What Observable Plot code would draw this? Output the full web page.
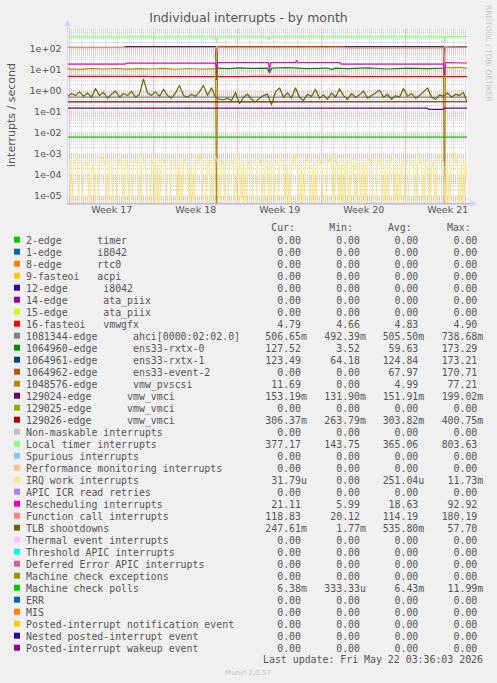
<!DOCTYPE html>
<html><head><meta charset="utf-8">
<script src="https://cdn.jsdelivr.net/npm/d3@7"></script>
<script src="https://cdn.jsdelivr.net/npm/@observablehq/plot@0.6"></script>
<style>
html,body{margin:0;padding:0;background:#f0f0f0;}
#wrap{position:relative;width:497px;height:683px;overflow:hidden;}
</style></head><body><div id="wrap"></div>
<script>
// ---------- text ----------
const chartTitle = "Individual interrupts - by month";
const yAxisLabel = "interrupts / second";
const watermark = "RRDTOOL / TOBI OETIKER";
const lastUpdate = "Last update: Fri May 22 03:36:03 2026";
const footer = "Munin 2.0.57";
const colHeaders = ["Cur:", "Min:", "Avg:", "Max:"];

// ---------- axes ----------
const yTickValues = [1e2, 1e1, 1e0, 1e-1, 1e-2, 1e-3, 1e-4, 1e-5];
const yTickLabels = ["1e+02", "1e+01", "1e+00", "1e-01", "1e-02", "1e-03", "1e-04", "1e-05"];
const weekStarts = ["2026-04-19", "2026-04-26", "2026-05-03", "2026-05-10", "2026-05-17"];
const weekLabels = ["Week 17", "Week 18", "Week 19", "Week 20", "Week 21"];
const endTime = Date.UTC(2026, 4, 22, 3, 36);
const stepHours = 8;      // one sample index = 8 hours
const nSteps = 100;       // 100 steps = 33.3 days (month view)
const yMin = 4.36e-6, yMax = 871;

// ---------- legend ----------
const names = [
"2-edge      timer","1-edge      i8042","8-edge      rtc0","9-fasteoi   acpi","12-edge      i8042",
"14-edge      ata_piix","15-edge      ata_piix","16-fasteoi   vmwgfx","1081344-edge      ahci[0000:02:02.0]",
"1064960-edge      ens33-rxtx-0","1064961-edge      ens33-rxtx-1","1064962-edge      ens33-event-2",
"1048576-edge      vmw_pvscsi","129024-edge      vmw_vmci","129025-edge      vmw_vmci","129026-edge      vmw_vmci",
"Non-maskable interrupts","Local timer interrupts","Spurious interrupts","Performance monitoring interrupts",
"IRQ work interrupts","APIC ICR read retries","Rescheduling interrupts","Function call interrupts","TLB shootdowns",
"Thermal event interrupts","Threshold APIC interrupts","Deferred Error APIC interrupts","Machine check exceptions",
"Machine check polls","ERR","MIS","Posted-interrupt notification event","Nested posted-interrupt event",
"Posted-interrupt wakeup event"];
const colors = [
"#00CC00","#0066B3","#FF8000","#FFCC00","#330099","#990099","#CCFF00","#FF0000","#808080","#008F00",
"#00487D","#B35A00","#B38F00","#6B006B","#8FB300","#B30000","#BEBEBE","#80FF80","#80C9FF","#FFC080",
"#FFE680","#AA80FF","#EE00CC","#FF8080","#666600","#FFBFFF","#00FFCC","#CC6699","#999900","#00CC00",
"#0066B3","#FF8000","#FFCC00","#330099","#990099"];
const curVals = ["0.00","0.00","0.00","0.00","0.00","0.00","0.00","4.79","506.65m","127.52","123.49","0.00","11.69","153.19m","0.00","306.37m","0.00","377.17","0.00","0.00","31.79u","0.00","21.11","118.83","247.61m","0.00","0.00","0.00","0.00","6.38m","0.00","0.00","0.00","0.00","0.00"];
const minVals = ["0.00","0.00","0.00","0.00","0.00","0.00","0.00","4.66","492.39m","3.52","64.18","0.00","0.00","131.90m","0.00","263.79m","0.00","143.75","0.00","0.00","0.00","0.00","5.99","20.12","1.77m","0.00","0.00","0.00","0.00","333.33u","0.00","0.00","0.00","0.00","0.00"];
const avgVals = ["0.00","0.00","0.00","0.00","0.00","0.00","0.00","4.83","505.50m","59.63","124.84","67.97","4.99","151.91m","0.00","303.82m","0.00","365.06","0.00","0.00","251.04u","0.00","18.63","114.19","535.80m","0.00","0.00","0.00","0.00","6.43m","0.00","0.00","0.00","0.00","0.00"];
const maxVals = ["0.00","0.00","0.00","0.00","0.00","0.00","0.00","4.90","738.68m","173.29","173.21","170.71","77.21","199.02m","0.00","400.75m","0.00","803.63","0.00","0.00","11.73m","0.00","92.92","180.19","57.70","0.00","0.00","0.00","0.00","11.99m","0.00","0.00","0.00","0.00","0.00"];

// ---------- series: [sample index, value] ----------
const zeroLine = [[0, 0], [100, 0]];
const vmwgfx = [[0,4.85],[20,4.85],[20.5,4.72],[45,4.72],[45.5,4.9],[70,4.9],[70.5,4.75],[100,4.79]];
const ahci = [[0,0.505],[100,0.507]];
const rxtx0 = [[0,118],[37,118],[37.25,3.52],[37.5,12],[40,11.5],[43,12.5],[46,11.8],[50,12],[50.5,7],[51,12],[55,12.8],[60,11.5],[65,12.2],[66,10.5],[67,12],[70,11.5],[75,12.5],[80,11],[85,12],[90,11.5],[94,12],[94.25,118],[100,127.5]];
const rxtx1 = [[0,115],[14,115],[14.5,126],[37,126],[37.25,64],[37.5,115],[69,115],[69.5,127],[94,127],[94.25,64],[94.5,118],[100,123.5]];
const event2 = [[0,0],[37.25,0],[37.5,126],[69,126],[69.5,112],[94,112],[94.25,0],[100,0]];
const pvscsi = [[0,11.2],[3,10.6],[6,11.8],[9,11],[12,11.6],[15,10.8],[18,11.5],[21,11],[24,11.8],[27,10.7],[30,11.6],[33,11],[37,11.2],[37.25,0],[94.25,0],[94.5,13],[96,12.4],[98,13.2],[100,11.69]];
const vmci129024 = [[0,0.152],[90,0.152],[90.25,0.134],[94,0.134],[94.25,0.153],[100,0.153]];
const vmci129026 = [[0,0.304],[100,0.306]];
const localTimer = [[0,372],[25,372],[25.75,398],[26.5,372],[37,372],[37.25,200],[37.5,372],[50.25,372],[50.5,268],[50.75,372],[94,372],[94.25,220],[94.5,390],[100,377]];
const resched = [[0,18.6],[14.5,18.6],[14.75,20.7],[37,20.7],[37.25,10],[37.5,22.3],[50.25,22.3],[50.5,9],[50.75,22.3],[57,22.3],[57.25,27.8],[57.5,22.3],[68,22.3],[68.5,18.6],[94,18.6],[94.25,6],[94.5,22.3],[100,21.1]];
const funcCall = [[0,115],[37,115],[37.25,60],[37.5,115],[94,115],[94.25,20.1],[94.5,118],[100,118.8]];
const mcePolls = [[0,0.0064],[100,0.00638]];
const tlb = [0.55,0.75,0.6,0.9,0.55,0.8,0.5,1.3,0.6,0.85,0.45,0.7,1.0,0.5,0.75,0.6,0.95,0.5,0.7,3.6,
0.8,0.6,0.9,0.55,1.2,0.6,0.45,0.8,1.8,0.6,0.5,0.7,0.55,0.9,1.8,0.6,1.4,0.5,0.4,0.38,
0.45,0.35,0.85,0.25,0.5,0.7,0.4,0.3,0.45,0.6,0.7,0.22,0.9,1.4,0.5,0.8,0.45,1.4,0.5,0.35,
0.7,0.55,1.2,0.45,0.65,0.4,0.8,0.5,1.25,0.6,0.4,0.75,0.5,0.65,1.0,0.45,0.6,0.8,1.1,0.5,
0.7,0.4,0.6,0.5,1.3,0.55,0.75,0.45,0.6,0.9,1.4,0.5,0.4,0.65,0.55,0.8,0.5,0.7,0.6,0.85,0.25];
// IRQ work, micro-interrupts/s, one value per half sample index (4 hours)
const irqWorkMicro = [
420,560,0,280,560,690,0,0,420,280,560,0,140,420,0,0,560,830,560,280,
0,420,560,0,0,280,690,420,0,560,350,0,0,420,560,280,0,690,560,420,
0,0,280,560,0,420,0,560,690,280,0,0,420,560,280,0,560,0,420,690,
560,0,280,0,420,560,1100,420,0,0,560,280,0,420,690,420,0,280,560,0,
0,420,560,280,0,690,560,0,420,0,280,560,420,0,0,560,690,280,0,420,
560,0,280,420,0,0,690,560,420,0,280,0,560,420,1100,560,0,280,0,420,
560,690,0,280,0,420,560,280,0,0,560,420,830,0,280,560,0,420,0,560,
280,0,690,560,0,420,280,0,560,0,420,690,280,0,0,560,420,560,0,280,
0,420,560,690,0,280,0,560,420,0,0,280,560,420,0,690,560,280,0,420,
560,0,280,420,0,560,1100,560,420,0,280,0,560,1400,830,280,0,420,0,560,
30];

const seriesPts = [
  zeroLine, zeroLine, zeroLine, zeroLine, zeroLine, zeroLine, zeroLine, vmwgfx, ahci, rxtx0,
  rxtx1, event2, pvscsi, vmci129024, zeroLine, vmci129026, zeroLine, localTimer, zeroLine, zeroLine,
  irqWorkMicro.map((v, i) => [i / 2, v * 1e-6]), zeroLine, resched, funcCall, tlb.map((v, i) => [i, v]),
  zeroLine, zeroLine, zeroLine, zeroLine, mcePolls, zeroLine, zeroLine, zeroLine, zeroLine, zeroLine];

// ---------- build ----------
const stepMs = stepHours * 3600e3;
const startTime = endTime - nSteps * stepMs;
// zero cannot sit on a log axis: it is drawn just under the bottom edge (clipped), as rrdtool does
const toRows = pts => pts.map(([i, v]) => ({t: new Date(startTime + i * stepMs), v: v > 0 ? v : yMin / 3}));

const dayMs = 86400e3;
const weekDates = weekStarts.map(s => new Date(s + "T00:00:00Z"));
const dayDates = d3.utcDay.range(new Date(startTime), new Date(endTime));
const weekCenters = weekDates.map(d => new Date(+d + 3.5 * dayMs));
const minorY = [];
for (let e = -6; e <= 2; e++) for (let k = 2; k <= 9; k++) { const v = k * Math.pow(10, e); if (v > yMin && v < yMax) minorY.push(v); }

const axisColor = "#b8acdf";
const plot = Plot.plot({
  width: 497, height: 222,
  marginLeft: 67, marginRight: 30, marginTop: 28.5, marginBottom: 18.7,
  style: {background: "transparent", fontFamily: "DejaVu Sans", fontSize: "9.5px", color: "#555", overflow: "visible"},
  x: {type: "utc", domain: [new Date(startTime), new Date(endTime)], axis: null},
  y: {type: "log", domain: [yMin, yMax], axis: null},
  marks: [
    Plot.frame({fill: "white", stroke: "none"}),
    Plot.ruleY(minorY, {stroke: "#c4c4c4", strokeDasharray: "1,1"}),
    Plot.ruleX(dayDates, {stroke: "#c4c4c4", strokeDasharray: "1,1"}),
    Plot.ruleY(yTickValues, {stroke: "#f2a0a0", strokeDasharray: "1,1"}),
    Plot.ruleX(weekDates, {stroke: "#f2a0a0", strokeDasharray: "1,1"}),
    ...seriesPts.map((pts, k) => Plot.line(toRows(pts), {x: "t", y: "v", stroke: colors[k], strokeWidth: 1.2, clip: true})),
    Plot.ruleY([yMin], {stroke: axisColor, strokeWidth: 1.2, insetRight: -4}),
    Plot.ruleX([new Date(startTime)], {stroke: "#cfd6f8", strokeWidth: 1, insetTop: -5}),
    Plot.dot([new Date(startTime)], {x: d => d, y: [yMax], symbol: "triangle", r: 2.6, fill: "#cfd6f8", stroke: "none", dy: -5}),
    Plot.dot([new Date(endTime)], {x: d => d, y: [yMin], symbol: "triangle", r: 2.6, fill: "#cfd6f8", stroke: "none", dx: 5, rotate: 90}),
    Plot.text(yTickValues, {y: d => d, text: (d, i) => yTickLabels[i], frameAnchor: "left", dx: -6, textAnchor: "end", fill: "#555"}),
    Plot.text(weekCenters, {x: d => d, text: (d, i) => weekLabels[i], frameAnchor: "bottom", dy: 9.4, fill: "#555"})
  ]
});
plot.style.position = "absolute";
plot.style.left = "0px";
plot.style.top = "0px";
const wrap = d3.select("#wrap");
wrap.node().appendChild(plot);

const ov = wrap.append("svg").attr("width", 497).attr("height", 683)
  .style("position", "absolute").style("left", "0px").style("top", "0px");
const sans = "'DejaVu Sans', sans-serif", mono = "'DejaVu Sans Mono', monospace";
ov.append("text").attr("x", 248.5).attr("y", 22.4).attr("text-anchor", "middle")
  .style("font", `12.5px ${sans}`).attr("fill", "#555").text(chartTitle);
ov.append("text").attr("transform", "translate(10.7,115) rotate(-90)").attr("dy", "0.35em")
  .attr("text-anchor", "middle").style("font", `11px ${sans}`).attr("fill", "#555").text(yAxisLabel);
ov.append("text").attr("transform", "translate(488.5,5) rotate(90)").attr("dy", "0.35em")
  .attr("text-anchor", "start").style("font", `7.5px ${sans}`).attr("fill", "#c8c8c8").text(watermark);

const fs = 9.9;
const colEnds = [301, 360, 418.3, 477.3];
const headEnds = [295, 353, 411.7, 470.7];
colHeaders.forEach((h, j) => ov.append("text").attr("x", headEnds[j]).attr("y", 227.3 + 3.6)
  .attr("text-anchor", "end").style("font", `${fs}px ${mono}`).attr("fill", "#555").text(h));
const split = s => { const m = s.match(/^([\d.]+)([a-zA-Z]?)$/); return [m[1], m[2]]; };
names.forEach((name, k) => {
  const cy = 240 + 12 * k;
  ov.append("rect").attr("x", 14).attr("y", cy - 3.3).attr("width", 6).attr("height", 6).attr("fill", colors[k]);
  ov.append("text").attr("x", 26).attr("y", cy + 3.6).attr("xml:space", "preserve")
    .style("white-space", "pre").style("font", `${fs}px ${mono}`).attr("fill", "#555").text(name);
  [curVals[k], minVals[k], avgVals[k], maxVals[k]].forEach((s, j) => {
    const [num, suf] = split(s);
    ov.append("text").attr("x", colEnds[j]).attr("y", cy + 3.6).attr("text-anchor", "end")
      .style("font", `${fs}px ${mono}`).attr("fill", "#555").text(num);
    if (suf) ov.append("text").attr("x", colEnds[j]).attr("y", cy + 3.6)
      .style("font", `${fs}px ${mono}`).attr("fill", "#555").text(suf);
  });
});
ov.append("text").attr("x", 483).attr("y", 659.7 + 3.6).attr("text-anchor", "end")
  .style("font", `${fs}px ${mono}`).attr("fill", "#555").text(lastUpdate);
ov.append("text").attr("x", 248).attr("y", 672.3 + 2.5).attr("text-anchor", "middle")
  .style("font", `7px ${sans}`).attr("fill", "#c4c4c4").text(footer);
</script></body></html>
